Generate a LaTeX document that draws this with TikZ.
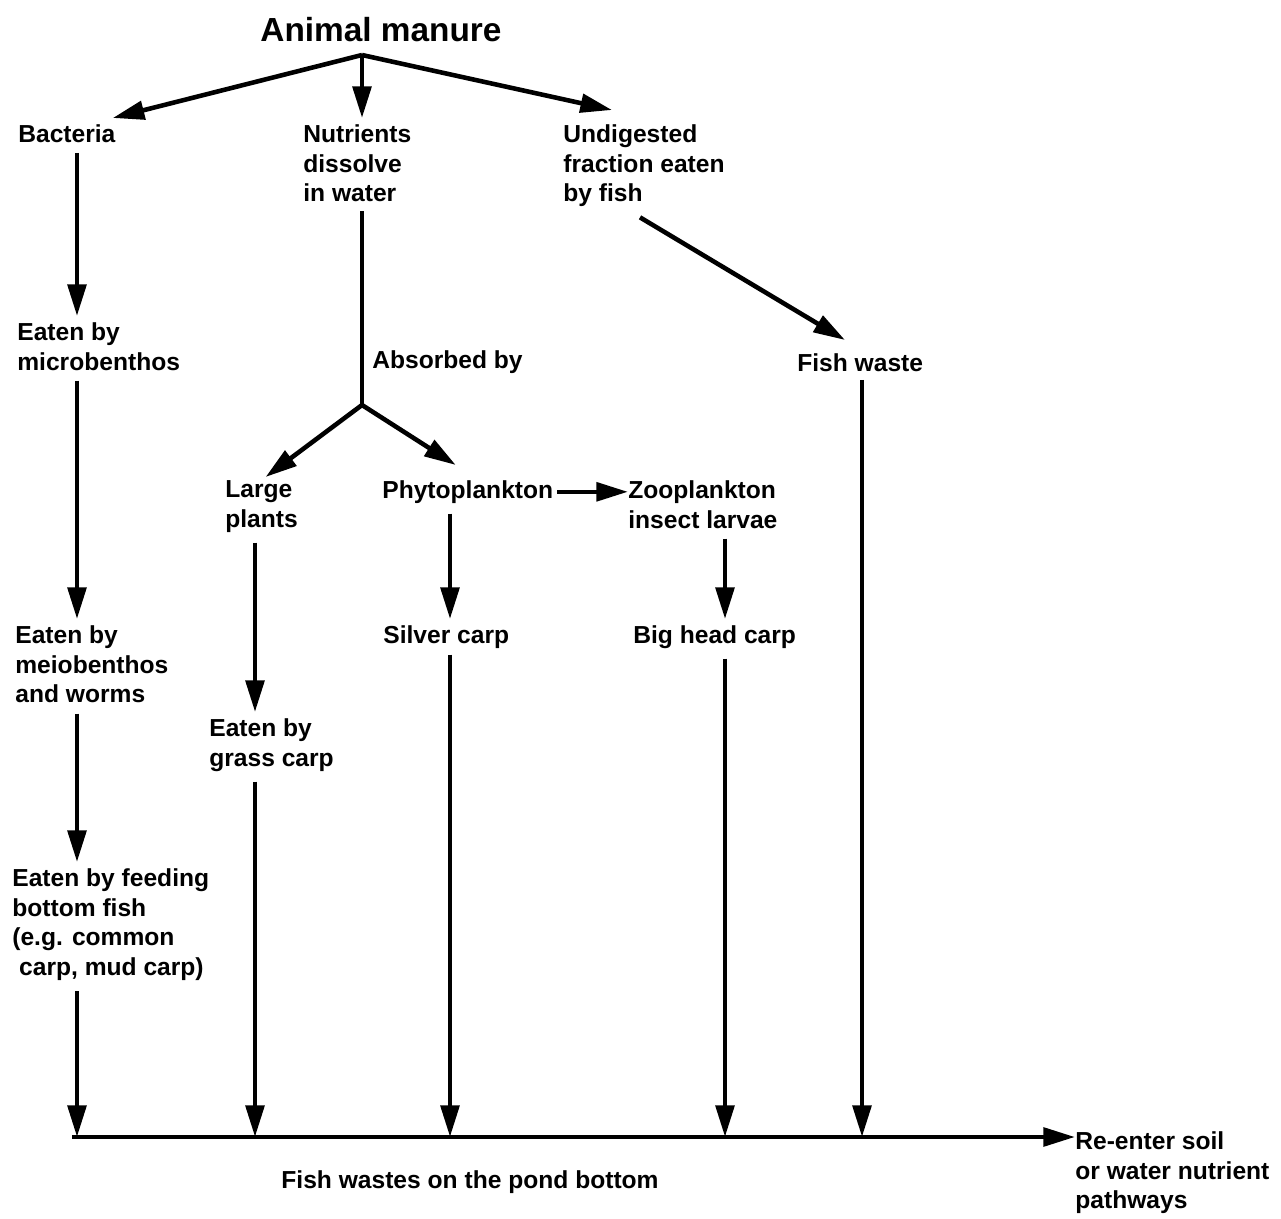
\documentclass[tikz,border=0pt]{standalone}
\usepackage{fontspec}
\setmainfont{Liberation Sans}
\usetikzlibrary{arrows.meta, positioning, calc}
\tikzset{
  >={Triangle[length=18pt,width=10.5pt]},
  box/.style={anchor=north west, inner sep=0pt, align=left,
    font=\fontsize{14}{17}\selectfont\bfseries},
  flow/.style={->, line width=2.6pt},
  gap/.style={shorten <=0.2cm, shorten >=0.12cm}
}

\begin{document}
\begin{tikzpicture}[x=0.02cm, y=-0.02cm]
    \useasboundingbox (0,0) rectangle (1281,1219);

    \node[anchor=north, inner sep=0pt, font=\fontsize{19}{22}\selectfont\bfseries]
      (manure) at (381,17) {Animal manure};

    \node[box] (bact)    at (18,124)  {Bacteria};
    \node[box] (nutr)    at (303,124) {Nutrients\\dissolve\\in water};
    \node[box] (undig)   at (563,124) {Undigested\\fraction eaten\\by fish};
    \node[box] (micro)   at (17,322)  {Eaten by\\microbenthos};
    \node[box] (absorb)  at (372,350) {Absorbed by};
    \node[box] (fwaste)  at (797,353) {Fish waste};
    \node[box] (plants)  at (225,480) {Large\\plants};
    \node[box] (phyto)   at (382,480) {Phytoplankton};
    \node[box] (zoo)     at (628,480) {Zooplankton\\insect larvae};
    \node[box] (meio)    at (15,625)  {Eaten by\\meiobenthos\\and worms};
    \node[box] (silver)  at (383,625) {Silver carp};
    \node[box] (bighead) at (633,625) {Big head carp};
    \node[box] (grass)   at (209,718) {Eaten by\\grass carp};
    \node[box] (bottom)  at (12,868)  {Eaten by feeding\\bottom fish\\(e.g. common\\\ carp, mud carp)};
    \node[box] (reenter) at (1075,1131) {Re-enter soil\\or water nutrient\\pathways};
    \node[box, anchor=north] (pondtxt) at (470,1170) {Fish wastes on the pond bottom};

    \coordinate (apex) at (362,55);
    \coordinate (fork) at (362,405);
    \coordinate (pond) at (72,1137);
    \coordinate (col1) at (77,0);
    \coordinate (col2) at (255,0);
    \coordinate (col3) at (450,0);
    \coordinate (col4) at (725,0);
    \coordinate (col5) at (862,0);

    % from the manure
    \draw[flow] (apex) -- ([shift={(-3,-6)}]bact.north east);
    \draw[flow, shorten >=0.12cm] (apex) -- (apex |- nutr.north);
    \draw[flow] (apex) -- ([shift={(49,-14)}]undig.north west);

    % bottom feeders
    \draw[flow, gap] (bact.south -| col1) -- (micro.north -| col1);
    \draw[flow, gap] (micro.south -| col1) -- (meio.north -| col1);
    \draw[flow, gap] (meio.south -| col1) -- (bottom.north -| col1);
    \draw[flow, shorten <=0.2cm] (bottom.south -| col1) -- (pond -| col1);

    % dissolved nutrients
    \draw[line width=2.6pt, shorten <=0.18cm] (nutr.south -| apex) -- (fork);
    \draw[flow, shorten >=0.1cm] (fork) -- (plants.north);
    \draw[flow] (fork) -- ([shift={(-12,-15)}]phyto.north);
    \draw[flow, shorten <=2pt] (phyto.east) -- (phyto.east -| zoo.west);
    \draw[flow, gap] (plants.south -| col2) -- (grass.north -| col2);
    \draw[flow, shorten <=0.2cm] (grass.south -| col2) -- (pond -| col2);
    \draw[flow, gap] (phyto.south -| col3) -- (silver.north -| col3);
    \draw[flow, shorten <=0.12cm] (silver.south -| col3) -- (pond -| col3);
    \draw[flow, gap] (zoo.south -| col4) -- (bighead.north -| col4);
    \draw[flow, shorten <=0.2cm] (bighead.south -| col4) -- (pond -| col4);

    % undigested part
    \draw[flow] ([shift={(77,10)}]undig.south west) -- ([shift={(48,-13)}]fwaste.north west);
    \draw[flow, shorten <=0.16cm] (fwaste.south -| col5) -- (pond -| col5);

    \draw[flow] (pond) -- (pond -| reenter.west);
\end{tikzpicture}
\end{document}
